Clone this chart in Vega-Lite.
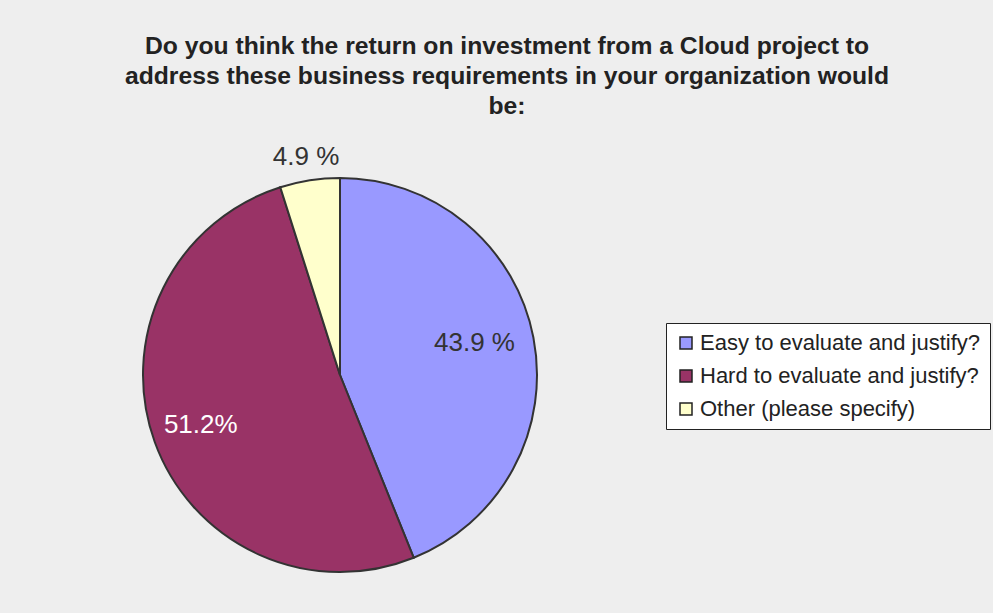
{
  "$schema": "https://vega.github.io/schema/vega-lite/v6.json",
  "width": 394,
  "height": 394,
  "autosize": {"type": "none"},
  "padding": {"left": 143, "top": 178, "right": 456, "bottom": 41},
  "background": "#EEEEEE",
  "title": {
    "text": ["Do you think the return on investment from a Cloud project to", "address these business requirements in your organization would", "be:"],
    "font": "Liberation Sans",
    "fontSize": 24.7,
    "fontWeight": "bold",
    "color": "#222222",
    "anchor": "middle",
    "dx": 167,
    "offset": 5,
    "baseline": "alphabetic",
    "lineHeight": 30
  },
  "data": {
    "values": [
      {"category": "Easy to evaluate and justify?", "value": 43.9, "label": "43.9 %"},
      {"category": "Hard to evaluate and justify?", "value": 51.2, "label": "51.2%"},
      {"category": "Other (please specify)", "value": 4.9, "label": "4.9 %"}
    ]
  },
  "encoding": {
    "theta": {"field": "value", "type": "quantitative", "stack": true},
    "order": {"field": "category", "type": "nominal", "sort": "ascending"}
  },
  "layer": [
    {
      "mark": {"type": "arc", "stroke": "#333333", "strokeWidth": 2},
      "encoding": {
        "color": {
          "field": "category",
          "type": "nominal",
          "scale": {
            "domain": ["Easy to evaluate and justify?", "Hard to evaluate and justify?", "Other (please specify)"],
            "range": ["#9999FF", "#993366", "#FFFFCC"]
          },
          "legend": {
            "title": null,
            "orient": "none",
            "legendX": 523,
            "legendY": 145,
            "symbolType": "square",
            "symbolSize": 144,
            "symbolStrokeColor": "#222222",
            "symbolStrokeWidth": 1.5,
            "symbolOpacity": 1,
            "labelFont": "Liberation Sans",
            "labelFontSize": 22,
            "labelColor": "#222222",
            "labelOffset": 3,
            "labelLimit": 400,
            "rowPadding": 11,
            "padding": 9,
            "strokeColor": "#222222",
            "fillColor": "#FFFFFF"
          }
        }
      }
    },
    {
      "mark": {"type": "text", "radius": 137, "dy": -6, "font": "Liberation Sans", "fontSize": 26, "color": "#333333"},
      "encoding": {
        "text": {"condition": {"test": "datum.category === 'Easy to evaluate and justify?'", "field": "label"}, "value": ""}
      }
    },
    {
      "mark": {"type": "text", "radius": 148, "font": "Liberation Sans", "fontSize": 26, "color": "#FFFFFF"},
      "encoding": {
        "text": {"condition": {"test": "datum.category === 'Hard to evaluate and justify?'", "field": "label"}, "value": ""}
      }
    },
    {
      "mark": {"type": "text", "radius": 221, "font": "Liberation Sans", "fontSize": 26, "color": "#333333"},
      "encoding": {
        "text": {"condition": {"test": "datum.category === 'Other (please specify)'", "field": "label"}, "value": ""}
      }
    }
  ],
  "config": {"view": {"stroke": null}}
}
